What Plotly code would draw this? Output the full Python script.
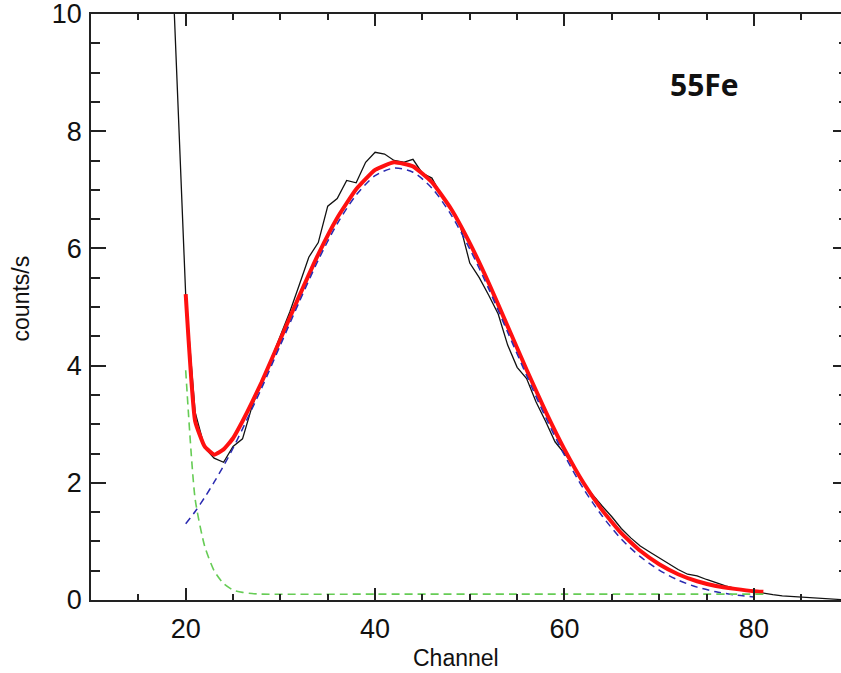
import plotly.graph_objects as go

# Measured spectrum (black)
data_ch = list(range(18, 91))
data_cps = [13.2, 9.2, 5.2, 3.2, 2.6, 2.42, 2.35, 2.62, 2.75, 3.3,
            3.72, 4.1, 4.5, 4.92, 5.38, 5.85, 6.1, 6.72, 6.85, 7.16,
            7.12, 7.47, 7.64, 7.61, 7.5, 7.47, 7.52, 7.28, 7.2, 6.9,
            6.68, 6.38, 5.75, 5.5, 5.2, 4.88, 4.35, 3.97, 3.78, 3.38,
            3.05, 2.7, 2.5, 2.3, 1.98, 1.78, 1.6, 1.42, 1.22, 1.06,
            0.92, 0.82, 0.72, 0.62, 0.52, 0.44, 0.41, 0.35, 0.29, 0.24,
            0.2, 0.17, 0.14, 0.12, 0.09, 0.07, 0.06, 0.05, 0.045, 0.04,
            0.02, 0.01, 0.0]

# Total fit (red)
fit_ch = [20, 21, 22, 23, 24, 25, 26, 27, 28, 30, 32, 34, 36, 38, 40, 42, 44,
          46, 48, 50, 52, 54, 56, 58, 60, 62, 64, 66, 68, 70, 72, 74, 76, 78,
          80, 81]
fit_cps = [5.22, 3.05, 2.62, 2.48, 2.57, 2.76, 3.05, 3.37, 3.71, 4.45, 5.19,
           5.90, 6.52, 7.01, 7.34, 7.47, 7.40, 7.13, 6.68, 6.09, 5.41, 4.67,
           3.93, 3.22, 2.57, 2.00, 1.53, 1.14, 0.84, 0.61, 0.44, 0.32, 0.24,
           0.19, 0.15, 0.14]

# Gaussian peak component (blue dashed)
peak_ch = [20, 21, 22, 23, 24, 25, 26, 28, 30, 32, 34, 36, 38, 40, 42, 44, 46,
           48, 50, 52, 54, 56, 58, 60, 62, 64, 66, 68, 70, 72, 74, 76, 78, 80]
peak_cps = [1.30, 1.51, 1.75, 2.01, 2.29, 2.59, 2.92, 3.61, 4.35, 5.09, 5.80,
            6.42, 6.91, 7.24, 7.37, 7.30, 7.03, 6.58, 5.99, 5.31, 4.57, 3.83,
            3.12, 2.47, 1.90, 1.43, 1.04, 0.74, 0.51, 0.34, 0.22, 0.14, 0.086,
            0.052]

# Background component (green dashed)
bkg_ch = [20, 21, 22, 23, 24, 25, 26, 27, 28, 40, 60, 81]
bkg_cps = [3.92, 1.72, 0.92, 0.50, 0.28, 0.17, 0.13, 0.11, 0.10, 0.10, 0.10, 0.10]

x_ticks = [20, 40, 60, 80]
y_ticks = [0, 2, 4, 6, 8, 10]

fig = go.Figure()
fig.add_trace(go.Scatter(x=data_ch, y=data_cps, mode="lines",
                         line=dict(color="#111111", width=1.3),
                         showlegend=False, hoverinfo="skip"))
fig.add_trace(go.Scatter(x=fit_ch, y=fit_cps, mode="lines",
                         line=dict(color="#ff1010", width=4, shape="spline", smoothing=0.4),
                         showlegend=False, hoverinfo="skip"))
fig.add_trace(go.Scatter(x=peak_ch, y=peak_cps, mode="lines",
                         line=dict(color="#2a2ab0", width=1.5, dash="7px,5px",
                                   shape="spline", smoothing=0.8),
                         showlegend=False, hoverinfo="skip"))
fig.add_trace(go.Scatter(x=bkg_ch, y=bkg_cps, mode="lines", yaxis="y2",
                         line=dict(color="#66cc55", width=1.6, dash="8px,5px",
                                   shape="spline", smoothing=0.6),
                         showlegend=False, hoverinfo="skip"))

tick_font = dict(family="Liberation Sans, Arial, sans-serif", size=27, color="#111111")
title_font = dict(family="Liberation Sans, Arial, sans-serif", size=23, color="#111111")

fig.update_layout(
    width=841, height=673,
    margin=dict(l=91, r=0, t=14, b=73, autoexpand=False),
    paper_bgcolor="white", plot_bgcolor="white",
    xaxis=dict(range=[10, 89.2], tickvals=x_ticks, ticks="inside", ticklen=12,
               tickwidth=1.5, tickcolor="#222222", showline=True, linewidth=1.5,
               linecolor="#222222", mirror="ticks", showgrid=False, zeroline=False,
               automargin=False, ticklabelstandoff=4,
               minor=dict(ticks="inside", ticklen=6, dtick=5, tick0=0,
                          tickwidth=1.5, tickcolor="#222222", showgrid=False),
               tickfont=tick_font),
    yaxis=dict(range=[0, 10], tickvals=y_ticks, ticks="inside", ticklen=15,
               tickwidth=1.5, tickcolor="#222222", showline=True, linewidth=1.5,
               linecolor="#222222", showgrid=False, zeroline=False,
               automargin=False, ticklabeloverflow="allow", ticklabelstandoff=2,
               minor=dict(ticks="inside", ticklen=9, dtick=0.5, tick0=0,
                          tickwidth=1.5, tickcolor="#222222", showgrid=False),
               tickfont=tick_font),
    yaxis2=dict(range=[0, 10], overlaying="y", side="right", anchor="x",
                tickvals=y_ticks, ticks="inside", ticklen=8, tickwidth=1.5,
                tickcolor="#222222", showline=False, showgrid=False,
                zeroline=False, showticklabels=False, automargin=False,
                minor=dict(ticks="inside", ticklen=2, dtick=0.5, tick0=0,
                           tickwidth=1.5, tickcolor="#222222", showgrid=False)),
    annotations=[
        dict(x=74.8, y=8.8, xref="x", yref="y", text="<b>55Fe</b>",
             showarrow=False, xanchor="center", yanchor="middle",
             font=dict(family="Open Sans, sans-serif", size=30, color="#111111")),
        dict(x=0.4867, y=-0.099, xref="paper", yref="paper", text="Channel",
             showarrow=False, xanchor="center", yanchor="middle", font=title_font),
        dict(x=-0.0927, y=0.5154, xref="paper", yref="paper", text="counts/s",
             textangle=-90, showarrow=False, xanchor="center", yanchor="middle",
             font=title_font),
    ],
)

# Remove the default 8px page margin so the figure fills the window exactly.
fig.write_html("out.html",
               config={"displayModeBar": False},
               post_script="document.body.style.margin='0';"
                           "document.body.style.overflow='hidden';")
